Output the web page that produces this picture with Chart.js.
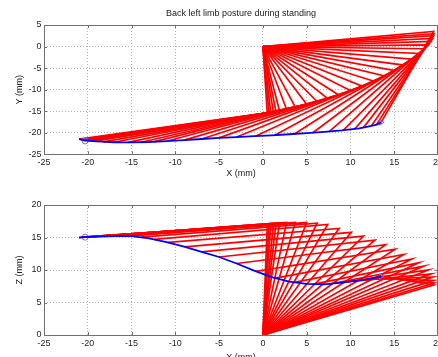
<!DOCTYPE html>
<html lang="en">
<head>
    <meta charset="UTF-8">
    <title>Back left limb posture during standing</title>
    <script src="https://cdn.jsdelivr.net/npm/chart.js"></script>
    <style>
        html, body {
            margin: 0;
            padding: 0;
            background: #ffffff;
            width: 438px;
            height: 357px;
            overflow: hidden;
        }

        /* canvases are a bit wider than the window so the "20" label gets cut like in the figure */
        .plot {
            position: absolute;
            left: 0;
        }

        #topPlot { top: 0; }
        #bottomPlot { top: 180px; }
    </style>
</head>
<body>
    <div class="plot" id="topPlot"><canvas id="xyChart" width="460" height="180"></canvas></div>
    <div class="plot" id="bottomPlot"><canvas id="xzChart" width="460" height="190"></canvas></div>

    <script>
        // hip joint sits at the origin in both views
        const hipX = 0, hipY = 0, hipZ = 0;

        // knee position for every posture (mm)
        const kneeX = [0.5, 0.7, 0.9, 1.2, 1.5, 1.9, 2.7, 3.7, 5.0, 6.2, 7.4, 8.7, 10.1, 11.5, 12.8, 14.0, 15.1, 16.1, 17.0, 17.8, 18.4, 18.9, 19.2, 19.4, 19.5, 19.55, 19.5];
        const kneeY = [-15.4, -15.35, -15.3, -15.2, -15.1, -14.9, -14.55, -14.05, -13.4, -12.8, -12.1, -11.3, -10.3, -9.3, -8.1, -6.9, -5.6, -4.3, -2.9, -1.6, -0.5, 0.4, 1.2, 1.9, 2.5, 3.0, 3.5];
        const kneeZ = [16.9, 17.0, 17.05, 17.1, 17.2, 17.25, 17.3, 17.3, 17.3, 17.2, 17.0, 16.4, 15.8, 15.2, 14.6, 13.9, 13.2, 12.4, 11.7, 11.1, 10.6, 10.0, 9.4, 8.9, 8.4, 8.0, 7.7];

        // foot position for every posture (mm)
        const footX = [-21.0, -20.7, -20.4, -20.1, -19.7, -19.2, -18.2, -17.0, -15.4, -13.9, -12.4, -10.8, -8.9, -7.0, -5.0, -3.0, -0.8, 1.4, 3.6, 5.7, 7.6, 9.2, 10.5, 11.5, 12.4, 13.0, 13.5];
        const footY = [-21.5, -21.6, -21.65, -21.75, -21.85, -21.95, -22.1, -22.2, -22.25, -22.2, -22.05, -21.85, -21.65, -21.45, -21.2, -21.0, -20.75, -20.55, -20.3, -20.0, -19.7, -19.4, -19.1, -18.75, -18.4, -18.05, -17.6];
        const footZ = [15.0, 15.05, 15.05, 15.1, 15.1, 15.15, 15.2, 15.2, 15.2, 15.05, 14.7, 14.25, 13.55, 12.8, 12.0, 11.0, 9.8, 8.75, 8.1, 7.8, 7.85, 8.1, 8.3, 8.5, 8.7, 8.85, 9.0];

        // blue foot trajectory
        const pathX = [-21, -20.3, -19, -17, -15, -13, -11, -9, -7, -5, -3, -1, 1, 3, 5, 7, 9, 11, 12, 13, 13.5];
        const pathY = [-21.5, -21.8, -22.0, -22.2, -22.25, -22.15, -21.95, -21.7, -21.45, -21.2, -21.0, -20.8, -20.6, -20.35, -20.1, -19.8, -19.45, -19.0, -18.6, -18.1, -17.6];
        const pathZ = [15.0, 15.05, 15.15, 15.2, 15.2, 14.85, 14.3, 13.6, 12.8, 12.0, 11.0, 9.9, 8.9, 8.2, 7.85, 7.8, 8.05, 8.4, 8.6, 8.85, 9.0];

        // start (circle) and end (triangle) markers of the trajectory: [x, y, z]
        const startMark = [-20.3, -21.9, 15.05];
        const endMark = [13.5, -17.6, 9.0];

        // axis ticks
        const xTicks = [-25, -20, -15, -10, -5, 0, 5, 10, 15, 20];
        const yTicks = [-25, -20, -15, -10, -5, 0, 5];
        const zTicks = [0, 5, 10, 15, 20];

        Chart.defaults.font.family = '"Liberation Sans", Arial, sans-serif';
        Chart.defaults.font.size = 9;
        Chart.defaults.color = '#262626';

        // MATLAB style box with inward tick marks
        const boxPlugin = {
            id: 'box',
            beforeDatasetsDraw(chart) {
                const { ctx, chartArea: a, scales } = chart;
                ctx.save();
                ctx.strokeStyle = '#707070';
                ctx.lineWidth = 1;
                ctx.strokeRect(Math.round(a.left) + 0.5, Math.round(a.top) + 0.5,
                    Math.round(a.right - a.left) - 1, Math.round(a.bottom - a.top));
                ctx.beginPath();
                scales.x.ticks.forEach(t => {
                    const px = Math.round(scales.x.getPixelForValue(t.value)) + 0.5;
                    ctx.moveTo(px, a.bottom); ctx.lineTo(px, a.bottom - 3);
                    ctx.moveTo(px, a.top); ctx.lineTo(px, a.top + 3);
                });
                scales.y.ticks.forEach(t => {
                    const py = Math.round(scales.y.getPixelForValue(t.value)) + 0.5;
                    ctx.moveTo(a.left, py); ctx.lineTo(a.left + 3, py);
                    ctx.moveTo(a.right, py); ctx.lineTo(a.right - 3, py);
                });
                ctx.stroke();
                ctx.restore();
            }
        };

        // plot title drawn over the upper axes
        const titlePlugin = {
            id: 'plotTitle',
            afterDraw(chart, args, opts) {
                if (!opts.text) return;
                const { ctx, chartArea: a } = chart;
                ctx.save();
                ctx.font = '9px "Liberation Sans", Arial, sans-serif';
                ctx.fillStyle = '#1a1a1a';
                ctx.textAlign = 'center';
                ctx.textBaseline = 'middle';
                ctx.fillText(opts.text, (a.left + a.right) / 2, 14);
                ctx.restore();
            }
        };

        function buildChart(canvasId, kneeV, footV, pathV, hipV, markIdx, vTicks, vLabel, cfg) {
            const datasets = [];

            // foot trajectory on top
            datasets.push({
                data: pathX.map((x, i) => ({ x: x, y: pathV[i] })),
                showLine: true,
                borderColor: '#0000ff',
                borderWidth: 1.8,
                pointRadius: 0,
                order: 0
            });
            datasets.push({
                data: [{ x: startMark[0], y: startMark[markIdx] }],
                pointStyle: 'circle',
                pointRadius: 3,
                borderColor: '#6a6aff',
                borderWidth: 1,
                backgroundColor: 'rgba(0,0,0,0)',
                order: 0
            });
            datasets.push({
                data: [{ x: endMark[0], y: endMark[markIdx] }],
                pointStyle: 'triangle',
                rotation: 90,
                pointRadius: 3,
                borderColor: '#6a6aff',
                borderWidth: 1,
                backgroundColor: 'rgba(0,0,0,0)',
                order: 0
            });

            // one red hip-knee-foot polyline per posture
            kneeX.forEach((kx, i) => {
                datasets.push({
                    data: [
                        { x: hipX, y: hipV },
                        { x: kx, y: kneeV[i] },
                        { x: footX[i], y: footV[i] }
                    ],
                    showLine: true,
                    borderColor: '#ff0000',
                    borderWidth: 1.7,
                    pointRadius: 0,
                    order: 1
                });
            });

            const ctx = document.getElementById(canvasId).getContext('2d');
            return new Chart(ctx, {
                type: 'scatter',
                data: { datasets: datasets },
                options: {
                    responsive: false,
                    animation: false,
                    events: [],
                    layout: { padding: { top: 25, right: 22, left: 0, bottom: 0 } },
                    plugins: {
                        legend: { display: false },
                        tooltip: { enabled: false },
                        plotTitle: { text: cfg.title }
                    },
                    scales: {
                        x: {
                            type: 'linear',
                            min: -25,
                            max: 20,
                            afterBuildTicks: s => { s.ticks = xTicks.map(v => ({ value: v })); },
                            afterFit: s => { s.height = cfg.xHeight; },
                            ticks: { padding: cfg.xTickPad, maxRotation: 0, autoSkip: false, color: '#262626' },
                            grid: { color: '#b0b0b0', lineWidth: 1, drawTicks: false },
                            border: { display: false, dash: [1, 2] },
                            title: { display: true, text: 'X (mm)', color: '#1a1a1a', padding: { top: 0, bottom: cfg.xTitlePad } }
                        },
                        y: {
                            type: 'linear',
                            min: vTicks[0],
                            max: vTicks[vTicks.length - 1],
                            afterBuildTicks: s => { s.ticks = vTicks.map(v => ({ value: v })); },
                            afterFit: s => { s.width = 44; },
                            ticks: { padding: 2.5, autoSkip: false, color: '#262626' },
                            grid: { color: '#b0b0b0', lineWidth: 1, drawTicks: false },
                            border: { display: false, dash: [1, 2] },
                            title: { display: true, text: vLabel, color: '#1a1a1a', padding: { top: 14.6, bottom: 0 } }
                        }
                    }
                },
                plugins: [boxPlugin, titlePlugin]
            });
        }

        // X-Y view
        buildChart('xyChart', kneeY, footY, pathY, hipY, 1, yTicks, 'Y (mm)', {
            title: 'Back left limb posture during standing',
            xHeight: 25.7,
            xTickPad: 3.3,
            xTitlePad: 1.2
        });

        // X-Z view
        buildChart('xzChart', kneeZ, footZ, pathZ, hipZ, 2, zTicks, 'Z (mm)', {
            title: '',
            xHeight: 35,
            xTickPad: 2.9,
            xTitlePad: 7.5
        });
    </script>
</body>
</html>
